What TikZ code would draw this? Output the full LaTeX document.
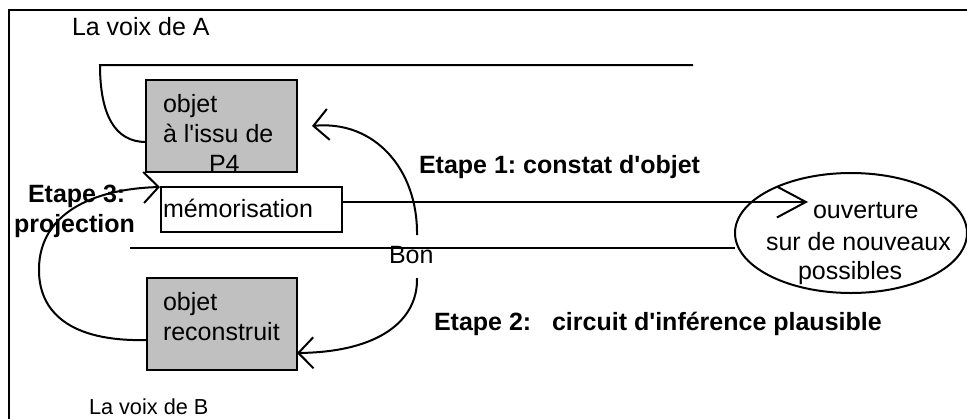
\documentclass[tikz,border=0pt]{standalone}
\usepackage{fontspec}
\setmainfont{Liberation Sans}[Ligatures=TeXOff]
\usetikzlibrary{arrows.meta,shapes.geometric}
\definecolor{boxgrey}{RGB}{192,192,192}
\frenchspacing
\begin{document}
\frenchspacing
\begin{tikzpicture}[x=1pt,y=-1pt,line width=2pt,
  stepbox/.style={draw,rectangle,inner sep=0pt,line width=2pt},
  greybox/.style={stepbox,fill=boxgrey},
  txt/.style={inner sep=0pt,anchor=base west,font=\fontsize{25}{30}\selectfont},
  smalltxt/.style={inner sep=0pt,anchor=base west,font=\fontsize{21.7}{26}\selectfont},
  btxt/.style={inner sep=0pt,anchor=base west,font=\fontsize{25}{30}\selectfont\bfseries},
  barb/.style={-{Straight Barb[length=15pt,width=31pt]}},
  longbarb/.style={-{Straight Barb[length=29pt,width=31pt]}}]
\useasboundingbox (0,0) rectangle (967,418);
\clip (0,0) rectangle (967,418);
% frame
\draw[line width=2.5pt] (9,440) -- (9,10) -- (990,10);
% nodes
\node[greybox,minimum width=151pt,minimum height=92pt] (boxA) at (221.5,126) {};
\node[stepbox,fill=white,minimum width=181pt,minimum height=45pt] (mem) at (251.5,209.5) {};
\node[greybox,minimum width=150pt,minimum height=92pt] (boxB) at (222,324) {};
\node[draw,ellipse,inner sep=0pt,minimum width=232pt,minimum height=120pt,line width=2pt] (ell) at (851,233) {};
% coordinates
\coordinate (topR) at (693,65);
\coordinate (topL) at (100,65);
\coordinate (boxAin) at (146,142);
\coordinate (lowL) at (130,248);
\coordinate (lowR) at (735,248);
\coordinate (tipE) at (808,202);
\coordinate (bonTop) at (417,235);
\coordinate (bonBot) at (417,278);
\coordinate (tipA) at (312,126);
\coordinate (tipB) at (297,353);
\coordinate (outB) at (147,340);
\coordinate (tipM) at (160,187);
% voice lines
\draw (topR) -- (topL) .. controls (100,115) and (115,142) .. (boxAin);
\draw (lowL) -- (lowR);
\draw[longbarb] ([yshift=7.5pt]mem.east) -- (tipE);
% etape arcs
\draw[barb] (bonTop) .. controls (418,170) and (375,120) .. (tipA);
\draw[barb] (bonBot) .. controls (418,320) and (380,352) .. (tipB);
\draw[barb] (outB) .. controls (70,342) and (38,312) .. (39,268) .. controls (40,215) and (90,189) .. (tipM);
% texts
\node[txt] (voixA) at (71,35) {La voix de A};
\node[smalltxt] (voixB) at (88,414) {La voix de B};
\node[txt] (a1) at (162,112) {objet};
\node[txt] (a2) at (162,142) {à l'issu de};
\node[txt] (a3) at (208,172) {P4};
\node[txt] (memt) at (162,217) {mémorisation};
\node[txt] (b1) at (162,310) {objet};
\node[txt] (b2) at (162,340) {reconstruit};
\node[txt] (bon) at (388,263) {Bon};
\node[txt] (o1) at (812,218) {ouverture};
\node[txt] (o2) at (765,250) {sur de nouveaux};
\node[txt] (o3) at (797,279) {possibles};
\node[btxt] (e1) at (418,173) {Etape 1: constat d'objet};
\node[btxt] (e2) at (433,330) {Etape 2:\ \ \ circuit d'inférence plausible};
\node[btxt] (e3a) at (27,202) {Etape 3:};
\node[btxt] (e3b) at (13,232) {projection};
\end{tikzpicture}
\end{document}
